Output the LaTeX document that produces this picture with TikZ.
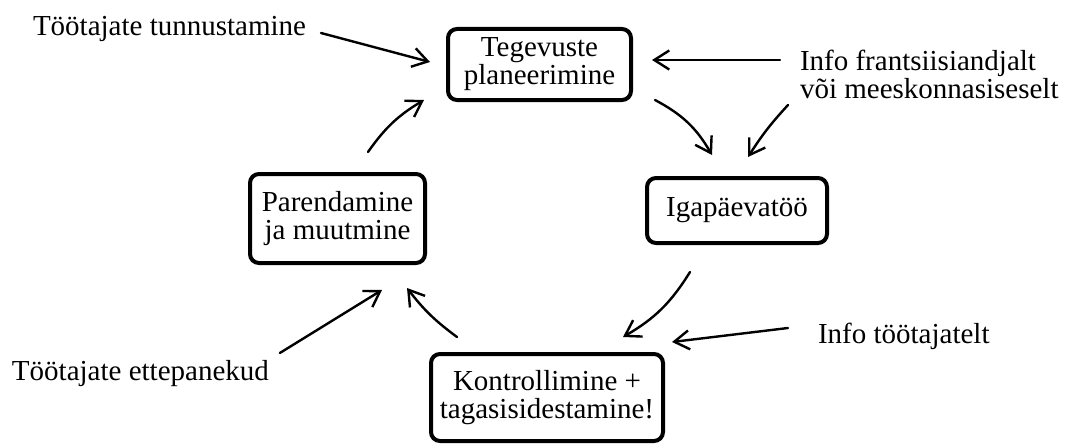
\documentclass[tikz,border=0pt]{standalone}
\usepackage{fontspec}
\setmainfont{Liberation Serif}
\usetikzlibrary{arrows.meta}
\begin{document}
\begin{tikzpicture}[x=1pt,y=-1pt,
  font=\fontsize{29}{28}\selectfont,
  stage/.style={draw, line width=4pt, rounded corners=9pt, align=center,
    inner sep=0pt, outer sep=0pt},
  note/.style={inner sep=0pt, outer sep=0pt, align=left},
  arr/.style={line width=2.4pt, line cap=round,
    -{Straight Barb[length=15pt,width=19pt,line width=2.4pt]}}]
\useasboundingbox (0,0) rectangle (1065,444);

% process stages
\node[stage, minimum width=183pt, minimum height=71pt] (teg) at (539.5,64.5)
  {Tegevuste\\planeerimine};
\node[stage, minimum width=180pt, minimum height=65pt] (iga) at (737,210.5)
  {Igapäevatöö};
\node[stage, minimum width=175pt, minimum height=89pt] (par) at (337.5,218.5)
  {Parendamine\\ja muutmine};
\node[stage, minimum width=232pt, minimum height=87pt] (kon) at (547,397.5)
  {Kontrollimine +\\tagasisidestamine!};

% inputs (base anchor of a two-line note is its last line)
\node[note, anchor=base west] (tun) at (33,36) {Töötajate tunnustamine};
\node[note, anchor=base west] (fra) at (800,98)
  {Info frantsiisiandjalt\\või meeskonnasiseselt};
\node[note, anchor=base west] (inf) at (818,343) {Info töötajatelt};
\node[note, anchor=base west] (ett) at (12,380) {Töötajate ettepanekud};

% cycle
\draw[arr] ([shift={(30.5,-66.5)}]par.center) to[bend left=12]
  ([shift={(-115.5,35.5)}]teg.center);
\draw[arr] ([shift={(115.5,35.5)}]teg.center) to[bend left=16]
  ([shift={(-25,-55.5)}]iga.center);
\draw[arr] ([shift={(-47,61.5)}]iga.center) to[bend left=14]
  ([shift={(76,-60.5)}]kon.center);
\draw[arr] ([shift={(-90,-60.5)}]kon.center) to[bend left=8]
  ([shift={(69.5,69.5)}]par.center);

% input arrows
\draw[arr] ([shift={(15,-3)}]tun.base east) --
  ([shift={(-109.5,-2.5)}]teg.center);
\draw[arr] ([shift={(-20,-38)}]fra.base west) --
  ([shift={(112.5,-4.5)}]teg.center);
\draw[arr] ([shift={(-12,7)}]fra.base west) to[bend right=5]
  ([shift={(11,-53.5)}]iga.center);
\draw[arr] ([shift={(-30,-15)}]inf.base west) --
  ([shift={(125,-55.5)}]kon.center);
\draw[arr] ([shift={(11,-27)}]ett.base east) --
  ([shift={(44.5,71.5)}]par.center);
\end{tikzpicture}
\end{document}
